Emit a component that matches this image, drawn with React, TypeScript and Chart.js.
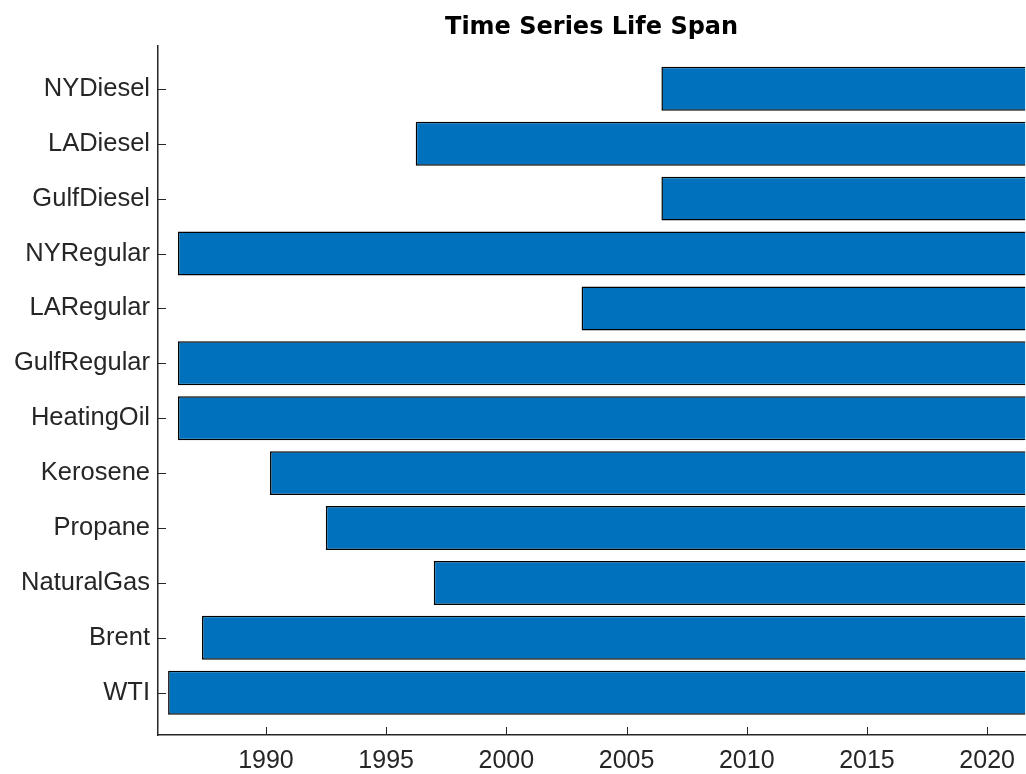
import React, { useEffect, useRef } from "react";
import { Chart, registerables } from "chart.js";

Chart.register(...registerables);

// Categories from bottom (index 0) to top
const categories = [
  "WTI",
  "Brent",
  "NaturalGas",
  "Propane",
  "Kerosene",
  "HeatingOil",
  "GulfRegular",
  "LARegular",
  "NYRegular",
  "GulfDiesel",
  "LADiesel",
  "NYDiesel",
];
const startYears = [
  1985.93, 1987.34, 1996.98, 1992.49, 1990.17, 1986.34, 1986.34, 2003.13,
  1986.34, 2006.45, 1996.23, 2006.45,
];
const endYears = [
  2022.0, 2022.0, 2022.0, 2022.0, 2022.0, 2022.0, 2022.0, 2022.0, 2022.0,
  2022.0, 2022.0, 2022.0,
];
const xTickValues = [1990, 1995, 2000, 2005, 2010, 2015, 2020];
const xMin = 1985.51;
const xMax = 2021.58;
const titleText = "Time Series Life Span";

const AXIS_COLOR = "#262626";
const TICK_LEN = 8;

const inwardTicks = {
  id: "inwardTicks",
  afterDraw(chart: any) {
    const { ctx, chartArea } = chart;
    const xs = chart.scales.x;
    const ys = chart.scales.y;
    ctx.save();
    ctx.strokeStyle = AXIS_COLOR;
    ctx.lineWidth = 1;
    xs.ticks.forEach((t: any) => {
      const px = Math.round(xs.getPixelForValue(t.value)) + 0.5;
      ctx.beginPath();
      ctx.moveTo(px, chartArea.bottom);
      ctx.lineTo(px, chartArea.bottom - TICK_LEN);
      ctx.stroke();
    });
    ys.ticks.forEach((t: any) => {
      const py = Math.round(ys.getPixelForValue(t.value)) + 0.5;
      ctx.beginPath();
      ctx.moveTo(chartArea.left, py);
      ctx.lineTo(chartArea.left + TICK_LEN, py);
      ctx.stroke();
    });
    ctx.restore();
  },
};

export default function App() {
  const canvasRef = useRef<HTMLCanvasElement | null>(null);

  useEffect(() => {
    document.body.style.margin = "0";
    const canvas = canvasRef.current;
    if (!canvas) return;
    const data = categories.map((_, i) => ({
      x: [startYears[i], endYears[i]],
      y: i,
    }));
    const chart = new Chart(canvas, {
      type: "bar",
      data: {
        datasets: [
          {
            data: data as any,
            backgroundColor: "#0072BD",
            borderColor: "#000000",
            borderWidth: 1.5,
            borderSkipped: false,
            categoryPercentage: 0.8,
            barPercentage: 1.0,
          },
        ],
      },
      plugins: [inwardTicks],
      options: {
        indexAxis: "y",
        animation: false,
        responsive: false,
        maintainAspectRatio: false,
        layout: { padding: 0 },
        plugins: {
          legend: { display: false },
          tooltip: { enabled: false },
          title: {
            display: true,
            text: titleText,
            fullSize: false,
            color: "#000000",
            font: { family: "DejaVu Sans", size: 24, weight: "bold", lineHeight: 1.2 },
            padding: { top: 13, bottom: 4.2 },
          },
        },
        scales: {
          x: {
            type: "linear",
            position: "bottom",
            min: xMin,
            max: xMax,
            offset: false,
            afterBuildTicks: (scale: any) => {
              scale.ticks = xTickValues.map((v) => ({ value: v }));
            },
            afterFit: (scale: any) => {
              scale.height = 39;
            },
            grid: { display: false, drawTicks: false },
            border: { display: true, color: AXIS_COLOR, width: 1.5 },
            ticks: {
              color: AXIS_COLOR,
              font: { family: "Liberation Sans", size: 25 },
              padding: 11,
              maxRotation: 0,
              autoSkip: false,
              callback: (v: any) => String(v),
            },
          },
          y: {
            type: "linear",
            position: "left",
            min: -0.77,
            max: 11.78,
            offset: false,
            afterBuildTicks: (scale: any) => {
              scale.ticks = categories.map((_, i) => ({ value: i }));
            },
            afterFit: (scale: any) => {
              scale.width = 158;
            },
            grid: { display: false, drawTicks: false, offset: false },
            border: { display: true, color: AXIS_COLOR, width: 1.5 },
            ticks: {
              color: AXIS_COLOR,
              font: { family: "Liberation Sans", size: 25.5 },
              padding: 8,
              autoSkip: false,
              callback: (v: any) => categories[v as number] ?? "",
            },
          },
        },
      },
    });
    return () => chart.destroy();
  }, []);

  return (
    <div style={{ width: 1026, height: 774 }}>
      <canvas ref={canvasRef} width={1026} height={774} style={{ display: "block" }} />
    </div>
  );
}
